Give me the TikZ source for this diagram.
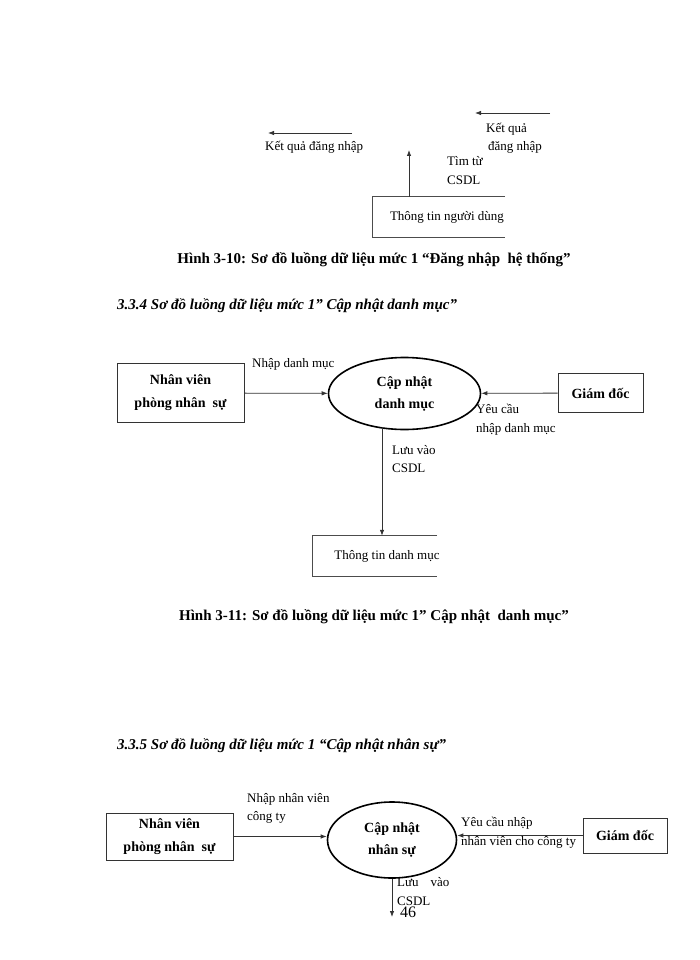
\documentclass[tikz,border=0pt]{standalone}
\usepackage{fontspec}
\setmainfont{Liberation Serif}
\usetikzlibrary{arrows.meta,shapes.geometric}

\begin{document}
\begin{tikzpicture}[x=1pt, y=-1pt, >={Latex[length=6pt,width=4.5pt]},
    flow/.style={draw=black!80, line width=0.8pt, ->},
    entity/.style={draw=black!80, line width=0.9pt, align=center,
        font=\fontsize{14}{23}\selectfont\bfseries},
    process/.style={ellipse, draw, line width=1.6pt, align=center, inner sep=0pt,
        font=\fontsize{14}{22}\selectfont\bfseries},
    store/.style={minimum height=40pt},
    storeline/.style={draw=black!70, line width=0.9pt},
    lbl/.style={anchor=west, align=left, inner sep=0pt,
        font=\fontsize{13}{18.5}\selectfont},
    caption/.style={font=\fontsize{15}{18}\selectfont\bfseries},
    heading/.style={anchor=west, inner sep=0pt,
        font=\fontsize{15}{18}\selectfont\bfseries\itshape}]
    \useasboundingbox (0,0) rectangle (700,960);

    % Hinh 3-10
    \node[store, minimum width=132pt,
        label={[xshift=8pt, font=\fontsize{13}{16}\selectfont]center:Thông tin người dùng}] (ds0) at (439,217) {};
    \draw[storeline] (ds0.north east) -- (ds0.north west) -- (ds0.south west) -- (ds0.south east);
    \coordinate (t1) at (409,150);
    \draw[flow] (t1 |- ds0.north) -- (t1);
    \coordinate (k1) at (352,133);
    \coordinate (k2) at (268,133);
    \coordinate (k3) at (550,113);
    \coordinate (k4) at (475,113);
    \draw[flow] (k1) -- (k2);
    \draw[flow] (k3) -- (k4);
    \node[lbl] at (265,147) {Kết quả đăng nhập};
    \node[lbl] at (486,138) {Kết quả\\\hspace*{2pt}đăng nhập};
    \node[lbl] at (447,170.5) {Tìm từ\\CSDL};
    \node[caption] (h10) at (374,260) {Hình 3-10: Sơ đồ luồng dữ liệu mức 1 “Đăng nhập\ \ hệ thống”};

    % 3.3.4
    \node[heading] (s334) at (117,306) {3.3.4 Sơ đồ luồng dữ liệu mức 1” Cập nhật danh mục”};
    \node[entity, minimum width=127pt, minimum height=59pt] (nv1) at (180.5,393) {Nhân viên\\phòng nhân\ \ sự};
    \node[process, minimum width=152pt, minimum height=72pt] (cn1) at (404.5,393.5) {Cập nhật\\danh mục};
    \node[entity, minimum width=85pt, minimum height=39pt] (gd1) at (600.5,393) {Giám đốc};
    \node[store, minimum width=124pt,
        label={[xshift=12pt, font=\fontsize{13}{16}\selectfont]center:Thông tin danh mục}] (ds1) at (375,556) {};
    \draw[storeline] (ds1.north east) -- (ds1.north west) -- (ds1.south west) -- (ds1.south east);

    \draw[flow] (nv1) -- (cn1);
    \draw[flow] (gd1) -- (cn1);
    \coordinate (l1) at (382,427);
    \draw[flow] (l1) -- (l1 |- ds1.north);
    \node[lbl] at (252,364) {Nhập danh mục};
    \node[lbl] at (476,419.5) {Yêu cầu\\nhập danh mục};
    \node[lbl] at (392,459) {Lưu vào\\CSDL};
    \node[caption] (h11) at (374,617) {Hình 3-11: Sơ đồ luồng dữ liệu mức 1” Cập nhật\ \ danh mục”};

    % 3.3.5
    \node[heading] (s335) at (117,746) {3.3.5 Sơ đồ luồng dữ liệu mức 1 “Cập nhật nhân sự”};
    \node[entity, minimum width=127pt, minimum height=47pt] (nv2) at (169.5,836.5) {Nhân viên\\phòng nhân\ \ sự};
    \node[process, minimum width=129pt, minimum height=76pt] (cn2) at (392,840) {Cập nhật\\nhân sự};
    \node[entity, minimum width=84pt, minimum height=35pt] (gd2) at (625,835.5) {Giám đốc};
    \coordinate (l2) at (392,917);

    \draw[flow] (nv2.east) -- (nv2.east -| cn2.west);
    \draw[flow] (gd2.west) -- (gd2.west -| cn2.east);
    \draw[flow] (cn2.south) -- (l2);
    \node[lbl] at (247,808.5) {Nhập nhân viên\\công ty};
    \node[lbl] at (461,832.5) {Yêu cầu nhập\\nhân viên cho công ty};
    \node[lbl] at (397,891.5) {Lưu\hspace{12pt}vào\\CSDL};
    \node[font=\fontsize{16}{16}\selectfont] (pg) at (408,912) {46};
\end{tikzpicture}
\end{document}
